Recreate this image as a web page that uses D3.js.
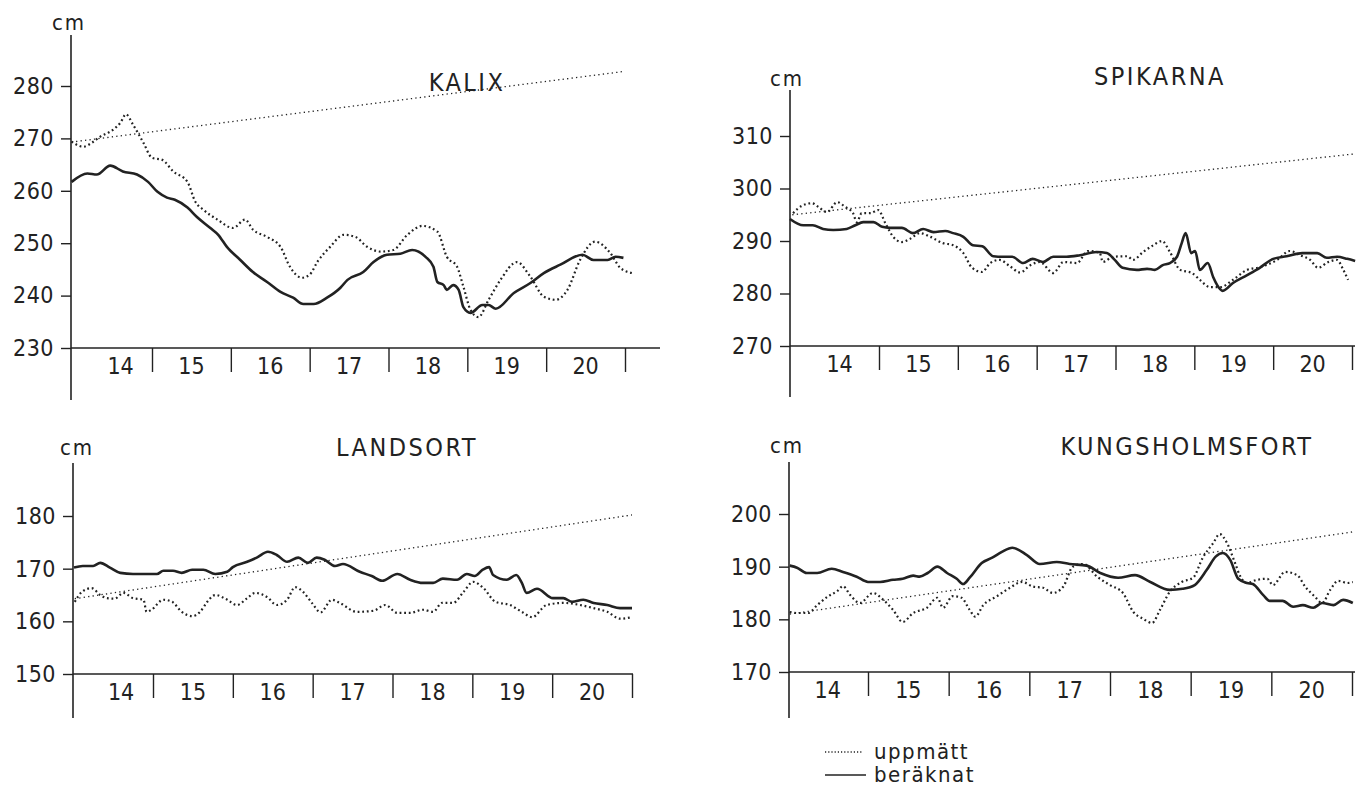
<!DOCTYPE html>
<meta charset="utf-8">
<script src="https://d3js.org/d3.v7.min.js"></script>
<style>
  body { margin: 0; background: #fff; }
  text { font-family: "Liberation Sans Narrow", "DejaVu Sans Condensed", "DejaVu Sans", sans-serif; fill: #222; }
</style>
<div id="chart"></div>
<script>

// day labels and day boundaries on the x axis
var dayLabels = [14, 15, 16, 17, 18, 19, 20];
var dayTicks = [15, 16, 17, 18, 19, 20, 21];

// KALIX  [day, cm]
var kalixTicks = [230, 240, 250, 260, 270, 280];
var kalixBer = [[13.98,261.7],[14.18,263.3],[14.30,263.1],[14.47,264.8],[14.63,263.7],[14.81,263.1],[14.95,261.7],[15.07,259.8],[15.19,258.7],[15.29,258.3],[15.45,256.8],[15.57,255.0],[15.74,252.9],[15.84,251.6],[15.95,249.3],[16.12,246.8],[16.28,244.5],[16.46,242.6],[16.63,240.7],[16.79,239.6],[16.92,238.4],[17.05,238.4],[17.22,239.6],[17.39,241.5],[17.48,243.0],[17.68,244.5],[17.81,246.4],[17.98,247.8],[18.15,248.0],[18.30,248.7],[18.47,247.4],[18.57,245.5],[18.62,242.6],[18.70,242.0],[18.74,241.1],[18.82,242.0],[18.89,241.1],[18.95,237.8],[19.04,236.7],[19.19,238.2],[19.27,238.2],[19.36,237.5],[19.59,240.5],[19.80,242.4],[19.97,244.3],[20.18,245.9],[20.46,247.8],[20.60,246.8],[20.78,246.8],[20.88,247.4],[20.98,247.2]];
var kalixUpp = [[13.98,269.4],[14.13,268.4],[14.24,269.2],[14.34,270.3],[14.51,271.7],[14.60,273.0],[14.67,274.6],[14.76,272.6],[14.89,269.2],[15.00,266.3],[15.13,265.9],[15.27,263.7],[15.45,261.7],[15.55,257.9],[15.65,256.4],[15.83,254.5],[16.03,252.9],[16.18,254.5],[16.28,252.6],[16.46,251.2],[16.63,249.3],[16.75,245.5],[16.90,243.4],[17.00,244.0],[17.10,246.5],[17.26,249.3],[17.43,251.6],[17.58,251.2],[17.73,249.3],[17.90,248.4],[18.06,248.7],[18.24,251.6],[18.43,253.3],[18.62,252.2],[18.74,247.4],[18.87,245.5],[18.95,241.7],[19.04,237.3],[19.14,235.9],[19.27,239.2],[19.42,243.0],[19.63,246.4],[19.80,243.6],[19.97,239.8],[20.12,239.2],[20.27,241.1],[20.43,246.8],[20.62,250.3],[20.81,248.2],[20.94,245.3],[21.09,244.3]];
var kalixTrend = [[13.98,269.3],[21.00,282.8]];

// SPIKARNA
var spikTicks = [270, 280, 290, 300, 310];
var spikBer = [[13.87,294.2],[14.04,293.0],[14.16,293.0],[14.29,292.3],[14.42,292.1],[14.59,292.3],[14.70,293.0],[14.80,293.6],[14.93,293.6],[15.04,292.7],[15.14,292.5],[15.29,292.5],[15.43,291.5],[15.56,292.3],[15.69,291.7],[15.84,291.9],[15.94,291.5],[16.07,290.8],[16.19,289.2],[16.31,289.0],[16.45,287.1],[16.57,287.0],[16.69,287.0],[16.83,285.8],[16.95,286.6],[17.08,286.0],[17.21,287.0],[17.38,287.0],[17.55,287.3],[17.76,287.9],[17.89,287.7],[17.99,286.4],[18.09,284.9],[18.27,284.5],[18.40,284.7],[18.50,284.5],[18.60,285.4],[18.69,285.8],[18.78,287.0],[18.84,289.6],[18.89,291.5],[18.96,287.7],[19.01,288.1],[19.07,284.5],[19.17,285.8],[19.24,283.1],[19.29,281.6],[19.36,280.5],[19.49,282.0],[19.67,283.5],[19.83,284.9],[20.00,286.6],[20.17,287.1],[20.37,287.7],[20.56,287.7],[20.68,286.8],[20.81,287.0],[20.94,286.6],[21.04,286.2]];
var spikUpp = [[13.91,295.3],[14.02,296.7],[14.15,297.2],[14.23,296.5],[14.34,295.5],[14.47,297.4],[14.57,296.5],[14.67,295.3],[14.72,293.6],[14.78,295.3],[14.89,295.3],[14.99,295.9],[15.08,293.4],[15.18,290.8],[15.29,289.8],[15.39,290.4],[15.52,291.5],[15.65,290.8],[15.81,289.6],[15.94,289.2],[16.07,287.7],[16.18,284.9],[16.31,284.1],[16.41,285.8],[16.53,286.4],[16.66,285.2],[16.79,284.0],[16.92,285.4],[17.04,286.0],[17.21,283.9],[17.34,286.0],[17.51,285.8],[17.65,288.1],[17.80,287.7],[17.84,286.0],[17.97,287.0],[18.15,287.1],[18.22,286.4],[18.35,287.9],[18.48,289.2],[18.59,290.0],[18.69,287.9],[18.82,284.5],[18.97,283.9],[19.07,282.6],[19.20,281.2],[19.33,281.2],[19.49,282.6],[19.67,284.5],[19.83,285.0],[20.05,286.4],[20.21,288.1],[20.34,287.3],[20.47,286.4],[20.57,284.9],[20.70,286.0],[20.81,286.4],[20.89,284.5],[20.95,282.6]];
var spikTrend = [[13.90,295.0],[21.04,306.6]];

// LANDSORT
var landTicks = [150, 160, 170, 180];
var landBer = [[14.01,170.2],[14.12,170.5],[14.25,170.5],[14.34,171.1],[14.46,170.2],[14.59,169.2],[14.75,169.0],[14.92,169.0],[15.05,169.0],[15.13,169.6],[15.25,169.6],[15.36,169.2],[15.49,169.8],[15.63,169.8],[15.78,169.0],[15.93,169.4],[16.00,170.3],[16.18,171.3],[16.30,172.1],[16.44,173.2],[16.55,172.6],[16.68,171.3],[16.82,172.1],[16.94,171.1],[17.05,172.1],[17.15,171.7],[17.28,170.5],[17.38,170.9],[17.59,169.4],[17.74,168.6],[17.87,167.7],[18.06,169.0],[18.22,167.9],[18.38,167.3],[18.51,167.3],[18.63,168.1],[18.81,167.9],[18.93,169.0],[19.03,168.6],[19.13,169.8],[19.21,170.3],[19.26,168.8],[19.43,167.9],[19.55,168.8],[19.62,167.3],[19.68,165.4],[19.81,166.2],[20.01,164.4],[20.14,164.4],[20.25,163.7],[20.39,164.1],[20.52,163.5],[20.69,163.1],[20.85,162.5],[21.00,162.5]];
var landUpp = [[14.02,163.7],[14.11,165.6],[14.23,166.3],[14.34,165.0],[14.42,164.4],[14.52,164.3],[14.63,165.4],[14.75,164.4],[14.88,164.1],[14.92,161.8],[14.98,162.2],[15.13,164.1],[15.24,163.7],[15.36,161.8],[15.49,161.0],[15.59,161.8],[15.68,163.7],[15.78,165.0],[15.93,164.1],[16.05,163.1],[16.18,164.4],[16.28,165.4],[16.43,164.6],[16.55,163.1],[16.68,164.1],[16.78,166.5],[16.88,165.6],[16.99,163.5],[17.10,161.7],[17.24,164.1],[17.34,163.5],[17.55,161.8],[17.76,162.0],[17.91,163.1],[18.06,161.6],[18.22,161.6],[18.38,162.2],[18.51,161.8],[18.62,163.5],[18.76,163.5],[18.89,165.6],[19.01,167.5],[19.14,166.3],[19.29,163.7],[19.47,163.1],[19.62,161.8],[19.75,160.8],[19.93,163.1],[20.14,163.5],[20.35,163.1],[20.52,162.5],[20.69,161.8],[20.85,160.5],[21.00,160.8]];
var landTrend = [[14.02,164.3],[21.00,180.2]];

// KUNGSHOLMSFORT
var kungTicks = [170, 180, 190, 200];
var kungBer = [[14.03,190.2],[14.12,189.8],[14.24,188.8],[14.37,188.8],[14.55,189.6],[14.69,189.0],[14.86,188.1],[15.00,187.1],[15.15,187.1],[15.31,187.5],[15.43,187.7],[15.56,188.3],[15.64,188.1],[15.74,188.8],[15.86,190.0],[15.98,188.8],[16.10,187.7],[16.18,186.7],[16.26,187.9],[16.41,190.7],[16.54,191.7],[16.66,192.8],[16.79,193.6],[16.97,192.2],[17.13,190.5],[17.34,190.9],[17.50,190.5],[17.71,190.2],[17.88,188.8],[18.10,187.9],[18.31,188.4],[18.50,187.1],[18.74,185.6],[18.90,185.8],[19.05,186.5],[19.20,189.4],[19.31,191.9],[19.40,192.6],[19.49,191.3],[19.59,187.7],[19.70,186.9],[19.77,186.7],[19.90,184.6],[19.98,183.5],[20.14,183.5],[20.27,182.4],[20.39,182.7],[20.52,182.2],[20.63,183.1],[20.77,182.7],[20.89,183.7],[21.01,183.1]];
var kungUpp = [[14.03,181.4],[14.12,181.2],[14.26,181.2],[14.37,182.7],[14.50,184.3],[14.62,185.4],[14.69,186.3],[14.78,184.6],[14.90,183.1],[15.06,185.0],[15.19,183.7],[15.31,181.8],[15.43,179.5],[15.56,181.2],[15.73,182.2],[15.86,184.1],[15.93,182.2],[16.05,184.4],[16.16,184.1],[16.26,181.8],[16.33,180.5],[16.43,182.7],[16.60,184.4],[16.76,186.0],[16.91,187.1],[17.05,186.2],[17.17,186.0],[17.29,185.0],[17.42,186.2],[17.54,190.0],[17.67,190.5],[17.84,188.1],[18.00,186.5],[18.16,185.0],[18.29,181.4],[18.41,180.1],[18.52,179.3],[18.62,181.8],[18.74,185.2],[18.89,187.1],[19.03,187.9],[19.15,191.7],[19.28,194.5],[19.36,196.2],[19.45,194.5],[19.55,190.7],[19.61,188.3],[19.70,186.9],[19.82,187.5],[19.95,187.7],[20.02,186.5],[20.17,189.0],[20.32,188.4],[20.42,186.2],[20.54,184.3],[20.63,183.1],[20.73,185.6],[20.83,187.3],[20.94,186.9],[21.01,187.1]];
var kungTrend = [[14.03,181.0],[21.01,196.6]];

// legend
var legendLabels = ["uppmätt", "beräknat"];

var width = 1356, height = 791;
var ink = "#222";

var svg = d3.select("#chart").append("svg")
  .attr("width", width)
  .attr("height", height);

// panel layout (pixels): axis crossing, axis extents and label positions
var panels = [
  {title: "KALIX", ticks: kalixTicks, ber: kalixBer, upp: kalixUpp, trend: kalixTrend,
   ax: 71, axEnd: 660, xr: [152, 625], ay: 348, yTopTick: 86, axTop: 35, axBot: 400,
   tx: 467, ty: 91, cmx: 69, cmy: 30, firstShift: 8},
  {title: "SPIKARNA", ticks: spikTicks, ber: spikBer, upp: spikUpp, trend: spikTrend,
   ax: 790, axEnd: 1355, xr: [879, 1352], ay: 346, yTopTick: 136, axTop: 90, axBot: 397,
   tx: 1160, ty: 85, cmx: 787, cmy: 86, firstShift: 0},
  {title: "LANDSORT", ticks: landTicks, ber: landBer, upp: landUpp, trend: landTrend,
   ax: 73, axEnd: 633, xr: [153, 632], ay: 674, yTopTick: 516, axTop: 463, axBot: 718,
   tx: 407, ty: 456, cmx: 77, cmy: 455, firstShift: 8},
  {title: "KUNGSHOLMSFORT", ticks: kungTicks, ber: kungBer, upp: kungUpp, trend: kungTrend,
   ax: 789, axEnd: 1355, xr: [868, 1352], ay: 672, yTopTick: 514, axTop: 462, axBot: 718,
   tx: 1187, ty: 455, cmx: 787, cmy: 453, firstShift: 0}
];

panels.forEach(function(p) {
  var g = svg.append("g");

  var x = d3.scaleLinear().domain([15, 21]).range(p.xr);
  var y = d3.scaleLinear()
    .domain([d3.min(p.ticks), d3.max(p.ticks)])
    .range([p.ay, p.yTopTick]);

  // axis lines
  g.append("line")
    .attr("x1", p.ax).attr("x2", p.ax)
    .attr("y1", p.axTop).attr("y2", p.axBot)
    .attr("stroke", ink).attr("stroke-width", 1.6);
  g.append("line")
    .attr("x1", p.ax).attr("x2", p.axEnd)
    .attr("y1", p.ay).attr("y2", p.ay)
    .attr("stroke", ink).attr("stroke-width", 1.6);

  // y axis ticks
  var yAxis = g.append("g")
    .attr("transform", "translate(" + p.ax + ",0)")
    .call(d3.axisLeft(y).tickValues(p.ticks).tickSize(10).tickPadding(7));
  yAxis.select(".domain").remove();
  yAxis.selectAll("line").attr("stroke", ink).attr("stroke-width", 1.4);
  yAxis.selectAll("text")
    .style("font-size", "23px")
    .style("letter-spacing", "0.5px")
    .attr("fill", ink);

  // x axis ticks (day boundaries, pointing down)
  var xAxis = g.append("g")
    .attr("transform", "translate(0," + p.ay + ")")
    .call(d3.axisBottom(x).tickValues(dayTicks).tickSize(24).tickFormat(""));
  xAxis.select(".domain").remove();
  xAxis.selectAll("line").attr("stroke", ink).attr("stroke-width", 1.4);

  // day labels
  g.selectAll(".day")
    .data(dayLabels)
    .enter().append("text")
      .attr("x", function(d, i) { return x(d + 0.5) + (i === 0 ? p.firstShift : 0); })
      .attr("y", p.ay + 26)
      .attr("text-anchor", "middle")
      .style("font-size", "23px")
      .text(function(d) { return d; });

  // cm label
  g.append("text")
    .attr("x", p.cmx).attr("y", p.cmy)
    .attr("text-anchor", "middle")
    .style("font-size", "22px")
    .style("letter-spacing", "2px")
    .text("cm");

  // station title
  g.append("text")
    .attr("x", p.tx).attr("y", p.ty)
    .attr("text-anchor", "middle")
    .style("font-size", "25px")
    .style("letter-spacing", "2.5px")
    .text(p.title);

  var line = d3.line()
    .x(function(d) { return x(d[0]); })
    .y(function(d) { return y(d[1]); });
  var smooth = d3.line()
    .curve(d3.curveMonotoneX)
    .x(function(d) { return x(d[0]); })
    .y(function(d) { return y(d[1]); });

  // trend (thin dotted)
  g.append("path")
    .datum(p.trend)
    .attr("d", line)
    .attr("fill", "none")
    .attr("stroke", ink)
    .attr("stroke-width", 1.3)
    .attr("stroke-dasharray", "1.3,3.2");

  // measured (dotted)
  g.append("path")
    .datum(p.upp)
    .attr("d", smooth)
    .attr("fill", "none")
    .attr("stroke", ink)
    .attr("stroke-width", 2.2)
    .attr("stroke-dasharray", "1.8,2.8");

  // computed (solid)
  g.append("path")
    .datum(p.ber)
    .attr("d", smooth)
    .attr("fill", "none")
    .attr("stroke", ink)
    .attr("stroke-width", 2.6)
    .attr("stroke-linejoin", "round");
});

// legend
var leg = svg.append("g");
leg.append("line")
  .attr("x1", 825).attr("x2", 862).attr("y1", 752).attr("y2", 752)
  .attr("stroke", ink).attr("stroke-width", 1.3).attr("stroke-dasharray", "1.2,2");
leg.append("line")
  .attr("x1", 825).attr("x2", 866).attr("y1", 775).attr("y2", 775)
  .attr("stroke", ink).attr("stroke-width", 1.6);
leg.selectAll(".lt")
  .data(legendLabels)
  .enter().append("text")
    .attr("x", 874)
    .attr("y", function(d, i) { return 759 + i * 23; })
    .style("font-size", "22px")
    .style("letter-spacing", "1.5px")
    .text(function(d) { return d; });

</script>
